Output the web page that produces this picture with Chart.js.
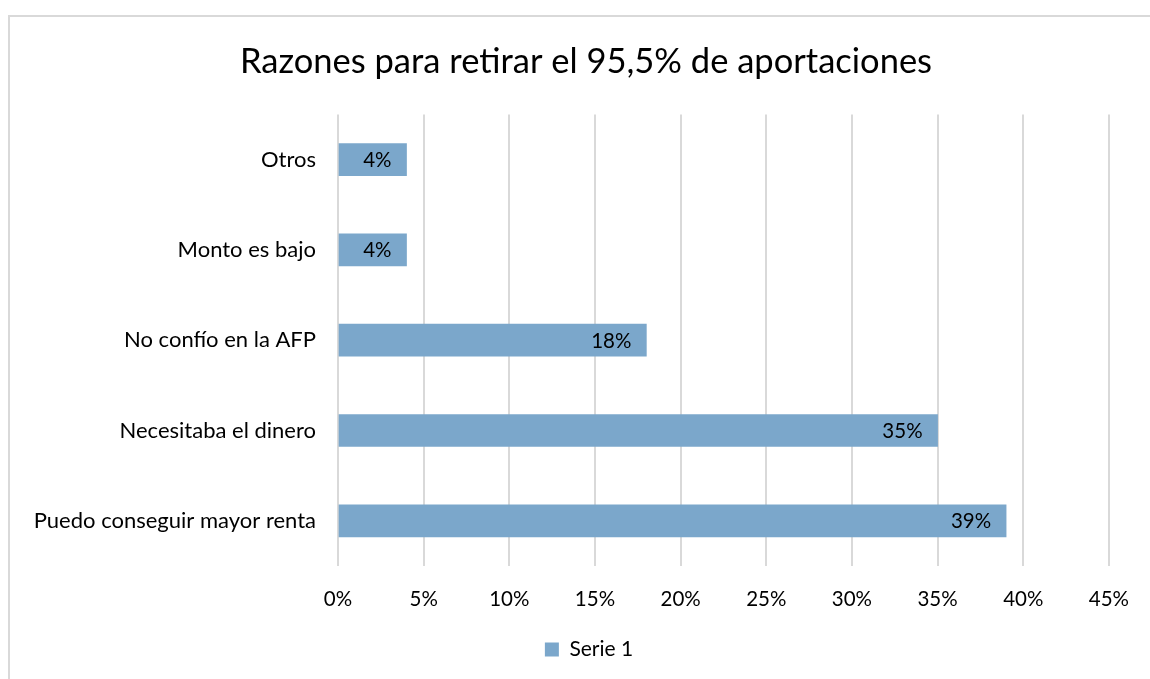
<!DOCTYPE html>
<html>
<head>
<meta charset="utf-8">
<script src="https://cdn.jsdelivr.net/npm/chart.js@4"></script>
<style>
  html, body { margin: 0; padding: 0; background: #fff; overflow: hidden; }
  #wrap { position: absolute; left: 0; top: 0; width: 1150px; height: 679px; }
  #frame { position: absolute; left: 8px; top: 15px; width: 1200px; height: 700px;
           border: 2px solid #d9d9d9; box-sizing: border-box; }
  canvas { position: absolute; left: 0; top: 0; }
</style>
</head>
<body>
<div id="wrap">
  <div id="frame"></div>
  <canvas id="chart" width="1150" height="679"></canvas>
</div>
<script>
const TITLE = 'Razones para retirar el 95,5% de aportaciones';
const CATEGORIES = ['Otros', 'Monto es bajo', 'No confío en la AFP', 'Necesitaba el dinero', 'Puedo conseguir mayor renta'];
const VALUES = [4, 4, 18, 35, 39];
const SERIES_NAME = 'Serie 1';
const X_MAX = 45;
const X_STEP = 5;

const FONT = 'Lato, "Open Sans", sans-serif';

const barLabels = {
    id: 'barLabels',
    afterDatasetsDraw(chart) {
        const ctx = chart.ctx;
        const meta = chart.getDatasetMeta(0);
        ctx.save();
        ctx.font = '20.5px ' + FONT;
        ctx.fillStyle = '#000';
        ctx.textAlign = 'right';
        ctx.textBaseline = 'middle';
        meta.data.forEach((bar, i) => {
            ctx.fillText(VALUES[i] + '%', bar.x - 15, bar.y + 1);
        });
        ctx.restore();
    }
};

// title and legend are centred on the outer frame, not on the whole canvas
const shiftBlocks = {
    id: 'shiftBlocks',
    afterLayout(chart) {
        if (chart.titleBlock) chart.titleBlock.left = 60;
        if (chart.legend) chart.legend.left = 66;
    }
};

new Chart(document.getElementById('chart'), {
    type: 'bar',
    data: {
        labels: CATEGORIES,
        datasets: [{
            label: SERIES_NAME,
            data: VALUES,
            backgroundColor: '#7ba7cb',
            barThickness: 32
        }]
    },
    options: {
        indexAxis: 'y',
        responsive: false,
        animation: false,
        layout: { padding: { left: 0, right: 38, top: 0, bottom: 9 } },
        plugins: {
            title: {
                display: true,
                text: TITLE,
                color: '#000',
                font: { family: FONT, size: 34.5, weight: 'normal' },
                padding: { top: 41, bottom: 32 }
            },
            legend: {
                position: 'bottom',
                labels: {
                    color: '#000',
                    font: { family: FONT, size: 21 },
                    boxWidth: 14,
                    boxHeight: 14,
                    padding: 10,
                    useBorderRadius: false
                }
            },
            tooltip: { enabled: false }
        },
        scales: {
            x: {
                min: 0,
                max: X_MAX,
                ticks: {
                    stepSize: X_STEP,
                    color: '#000',
                    font: { family: FONT, size: 20.5 },
                    padding: 21,
                    callback: v => v + '%'
                },
                grid: { color: '#d9d9d9', lineWidth: 2, drawTicks: false },
                border: { display: false },
                afterFit(scale) { scale.height = 63; }
            },
            y: {
                ticks: {
                    color: '#000',
                    font: { family: FONT, size: 22 },
                    padding: 22
                },
                grid: { display: false, drawTicks: false },
                border: { display: false },
                afterFit(scale) { scale.width = 338; }
            }
        }
    },
    plugins: [barLabels, shiftBlocks]
});
</script>
</body>
</html>
